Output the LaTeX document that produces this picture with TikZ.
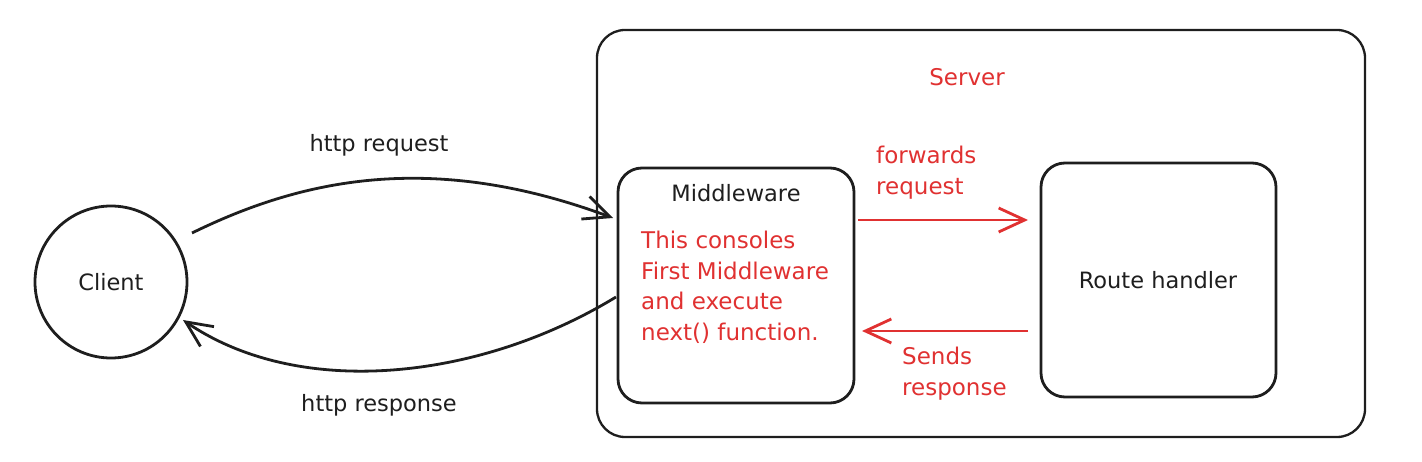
\documentclass[tikz,border=0pt]{standalone}
\usepackage{fontspec}
\setmainfont{DejaVu Sans}
\usetikzlibrary{arrows.meta,calc}
\definecolor{ink}{HTML}{1E1E1E}
\definecolor{redink}{HTML}{E03131}
\tikzset{
  lbl/.style={text=ink,font=\fontsize{22.5}{30}\selectfont,inner sep=0pt},
  rlbl/.style={text=redink,font=\fontsize{23}{30.5}\selectfont,inner sep=0pt,align=left},
  conn/.style={line width=2.8pt,draw=ink,-{Straight Barb[length=26pt,width=24pt]}},
  rconn/.style={line width=2.8pt,draw=redink,-{Straight Barb[length=26pt,width=24pt]}},
}
\begin{document}
\begin{tikzpicture}[x=1pt,y=-1pt]
\useasboundingbox (0,0) rectangle (1422,462);
% server
\node[draw=ink,line width=2.3pt,rounded corners=28pt,minimum width=768pt,minimum height=407pt,inner sep=0pt] (server) at (981,233.5) {};
\node[rlbl] (servert) at (967,77) {Server};
% client
\node[draw=ink,line width=2.8pt,circle,minimum size=152pt,inner sep=0pt] (client) at (111,282) {};
\node[lbl] (clientt) at (111,282) {Client};
% middleware
\node[draw=ink,line width=2.8pt,rounded corners=24pt,minimum width=236pt,minimum height=235pt,inner sep=0pt] (mw) at (736,285.5) {};
\node[lbl] (mwt) at (736,193) {Middleware};
\node[rlbl,anchor=north west] (mwbody) at (641,231) {This consoles\\First Middleware\\and execute\\next() function.};
% route handler
\node[draw=ink,line width=2.8pt,rounded corners=24pt,minimum width=235pt,minimum height=234pt,inner sep=0pt] (rh) at (1158.5,280) {};
\node[lbl] (rht) at (1158,280) {Route handler};
% red arrows
\coordinate (f1) at (858,220);
\coordinate (f2) at (1028,220);
\draw[rconn] (f1) -- (f2);
\node[rlbl,anchor=north west] (fwd) at (876,146) {forwards\\request};
\coordinate (s1) at (1028,331);
\coordinate (s2) at (862,331);
\draw[rconn] (s1) -- (s2);
\node[rlbl,anchor=north west] (snd) at (902,347) {Sends\\response};
% http
\coordinate (r1) at (192,233);
\coordinate (r2) at (613,218);
\draw[conn] (r1) .. controls (300,180) and (430,150) .. (r2);
\node[lbl] (req) at (379,145) {http request};
\coordinate (p1) at (616,297);
\coordinate (p2) at (183,320);
\draw[conn] (p1) .. controls (480,380) and (300,400) .. (p2);
\node[lbl] (resp) at (379,405) {http response};
\end{tikzpicture}
\end{document}
